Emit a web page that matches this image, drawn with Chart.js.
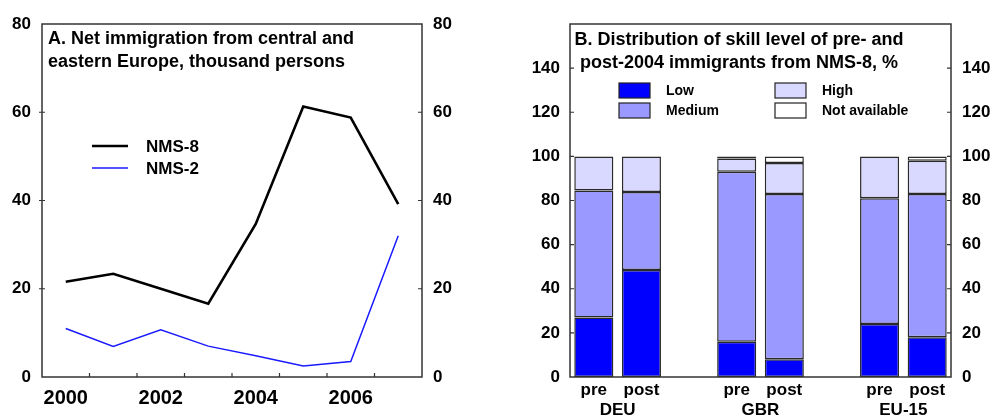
<!DOCTYPE html>
<html>
<head>
<meta charset="utf-8">
<script src="https://cdn.jsdelivr.net/npm/chart.js@4/dist/chart.umd.min.js"></script>
<style>
  html, body { margin: 0; padding: 0; background: #fff; }
  #wrap { position: relative; width: 992px; height: 416px; overflow: hidden; }
  canvas { position: absolute; top: 0; }
  #left { left: 0; }
  #right { left: 496px; }
</style>
</head>
<body>
<div id="wrap">
  <canvas id="left" width="496" height="416"></canvas>
  <canvas id="right" width="496" height="416"></canvas>
</div>
<script>
// Panel A: net immigration, thousand persons
const years = ['2000', '2001', '2002', '2003', '2004', '2005', '2006', '2007'];
const nms8 = [21.6, 23.4, 20.0, 16.6, 34.7, 61.3, 58.8, 39.2];
const nms2 = [11.0, 6.9, 10.7, 7.0, 4.8, 2.5, 3.5, 32.0];

// Panel B: skill distribution of NMS-8 immigrants, %
const barLabels = ['pre', 'post', '', 'pre', 'post', '', 'pre', 'post'];
const groupNames = ['DEU', 'GBR', 'EU-15'];
const groupMembers = [[0, 1], [3, 4], [6, 7]];
const low      = [27.0, 48.5, null, 16.0,  8.0, null, 24.0, 18.0];
const medium   = [57.5, 35.3, null, 77.0, 75.0, null, 57.0, 65.0];
const high     = [15.5, 16.2, null,  6.0, 14.0, null, 19.0, 15.0];
const notAvail = [ 0.0,  0.0, null,  1.0,  3.0, null,  0.0,  2.0];

const FONT = "'Liberation Sans', Arial, Helvetica, sans-serif";
const INK = '#000';

// Box round the plot area plus short tick marks
const framePlugin = {
  id: 'frame',
  afterDatasetsDraw(chart, args, opts) {
    const { ctx, chartArea: a } = chart;
    ctx.save();
    ctx.strokeStyle = '#333';
    ctx.lineWidth = 1.5;
    ctx.strokeRect(a.left, a.top, a.right - a.left, a.bottom - a.top);
    ctx.lineWidth = 1.2;
    ctx.beginPath();
    const L = 4;
    const yl = chart.scales.y, yr = chart.scales.y2;
    yl.ticks.forEach(t => {
      if (t.value >= yl.max || t.value <= yl.min) return;
      const p = yl.getPixelForValue(t.value);
      ctx.moveTo(a.left - (opts.crossLeft ? 3 : 0), p);
      ctx.lineTo(a.left + (opts.crossLeft ? 3 : L), p);
    });
    yr.ticks.forEach(t => {
      if (t.value >= yr.max || t.value <= yr.min) return;
      const p = yr.getPixelForValue(t.value);
      ctx.moveTo(a.right - L, p);
      ctx.lineTo(a.right, p);
    });
    if (opts.xBoundaries) {
      const xs = chart.scales.x;
      for (let i = 0; i < xs.ticks.length - 1; i++) {
        const p = (xs.getPixelForTick(i) + xs.getPixelForTick(i + 1)) / 2;
        ctx.moveTo(p, a.bottom);
        ctx.lineTo(p, a.bottom - L);
      }
    }
    ctx.stroke();
    ctx.restore();
  }
};

// Panel heading written inside the plot area
const headingPlugin = {
  id: 'heading',
  afterDraw(chart, args, opts) {
    const { ctx, chartArea: a } = chart;
    ctx.save();
    ctx.fillStyle = INK;
    ctx.font = 'bold ' + opts.size + 'px ' + FONT;
    ctx.textAlign = opts.align;
    ctx.textBaseline = 'alphabetic';
    opts.lines.forEach((line, i) => {
      ctx.fillText(line, a.left + opts.dx, a.top + opts.dy + i * opts.lineHeight);
    });
    ctx.restore();
  }
};

// Line legend for panel A
const lineLegendPlugin = {
  id: 'lineLegend',
  afterDraw(chart, args, opts) {
    const { ctx, chartArea: a } = chart;
    ctx.save();
    ctx.font = 'bold 17px ' + FONT;
    ctx.textBaseline = 'middle';
    ctx.textAlign = 'left';
    chart.data.datasets.forEach((ds, i) => {
      const y = a.top + opts.dy + i * opts.rowGap;
      ctx.strokeStyle = ds.borderColor;
      ctx.lineWidth = ds.borderWidth;
      ctx.beginPath();
      ctx.moveTo(a.left + opts.dx, y);
      ctx.lineTo(a.left + opts.dx + opts.lineLen, y);
      ctx.stroke();
      ctx.fillStyle = INK;
      ctx.fillText(ds.label, a.left + opts.textDx, y + 1);
    });
    ctx.restore();
  }
};

// Two-column box legend for panel B (filled down the columns)
const boxLegendPlugin = {
  id: 'boxLegend',
  afterDraw(chart, args, opts) {
    const { ctx, chartArea: a } = chart;
    ctx.save();
    ctx.font = 'bold 14px ' + FONT;
    ctx.textBaseline = 'middle';
    ctx.textAlign = 'left';
    chart.data.datasets.forEach((ds, i) => {
      const col = Math.floor(i / 2), row = i % 2;
      const x = a.left + opts.colX[col];
      const y = a.top + opts.rowY[row];
      ctx.fillStyle = ds.backgroundColor;
      ctx.fillRect(x, y, opts.boxW, opts.boxH);
      ctx.strokeStyle = '#222';
      ctx.lineWidth = 1.2;
      ctx.strokeRect(x, y, opts.boxW, opts.boxH);
      ctx.fillStyle = INK;
      ctx.fillText(ds.label, x + opts.textDx, y + opts.boxH / 2 + 1);
    });
    ctx.restore();
  }
};

// Country names centred under each pre/post pair
const groupLabelPlugin = {
  id: 'groupLabels',
  afterDraw(chart, args, opts) {
    const { ctx, chartArea: a } = chart;
    const xs = chart.scales.x;
    ctx.save();
    ctx.fillStyle = INK;
    ctx.font = 'bold 17px ' + FONT;
    ctx.textAlign = 'center';
    ctx.textBaseline = 'alphabetic';
    groupNames.forEach((name, g) => {
      const idx = groupMembers[g];
      const cx = idx.reduce((s, i) => s + xs.getPixelForValue(i), 0) / idx.length;
      ctx.fillText(name, cx, a.bottom + opts.dy);
    });
    ctx.restore();
  }
};

const tickFont = { family: FONT, size: 17, weight: 'bold' };

function fixedWidth(w) { return scale => { scale.width = w; }; }
function fixedHeight(h) { return scale => { scale.height = h; }; }

new Chart(document.getElementById('left'), {
  type: 'line',
  data: {
    labels: years,
    datasets: [
      { label: 'NMS-8', data: nms8, borderColor: '#000', borderWidth: 2.6, pointRadius: 0, tension: 0, yAxisID: 'y' },
      { label: 'NMS-2', data: nms2, borderColor: '#1a1aff', borderWidth: 1.5, pointRadius: 0, tension: 0, yAxisID: 'y' }
    ]
  },
  options: {
    responsive: false,
    devicePixelRatio: 1,
    animation: false,
    layout: { padding: { top: 24, left: 0, right: 0, bottom: 0 } },
    plugins: {
      legend: { display: false },
      tooltip: { enabled: false },
      frame: { crossLeft: true, xBoundaries: true },
      heading: {
        lines: ['A. Net immigration from central and', 'eastern Europe, thousand persons'],
        size: 18, align: 'left', dx: 6, dy: 20, lineHeight: 23
      },
      lineLegend: { dx: 50, lineLen: 36, textDx: 104, dy: 122, rowGap: 22 }
    },
    scales: {
      x: {
        type: 'category',
        offset: true,
        grid: { display: false, drawTicks: false },
        border: { display: false },
        afterFit: fixedHeight(39),
        ticks: {
          autoSkip: false, maxRotation: 0, padding: 9,
          color: INK, font: { family: FONT, size: 20, weight: 'bold' },
          callback: function (v) { const s = this.getLabelForValue(v); return (parseInt(s) % 2 === 0) ? s : ''; }
        }
      },
      y: {
        position: 'left', min: 0, max: 80,
        grid: { display: false, drawTicks: false },
        border: { display: false },
        afterFit: fixedWidth(42),
        ticks: { stepSize: 20, padding: 11, color: INK, font: tickFont }
      },
      y2: {
        position: 'right', min: 0, max: 80,
        grid: { display: false, drawTicks: false },
        border: { display: false },
        afterFit: fixedWidth(74),
        ticks: { stepSize: 20, padding: 11, color: INK, font: tickFont }
      }
    }
  },
  plugins: [framePlugin, headingPlugin, lineLegendPlugin]
});

const barBorder = '#2a2a2a';
function barSet(label, data, color) {
  return {
    label, data, backgroundColor: color, borderColor: barBorder, borderWidth: 1.5,
    borderSkipped: false, barPercentage: 0.82, categoryPercentage: 1.0,
    xAxisID: 'x', yAxisID: 'y'
  };
}

new Chart(document.getElementById('right'), {
  type: 'bar',
  data: {
    labels: barLabels,
    datasets: [
      barSet('Low', low, '#0000ff'),
      barSet('Medium', medium, '#9999ff'),
      barSet('High', high, '#d9d9ff'),
      barSet('Not available', notAvail, '#ffffff')
    ]
  },
  options: {
    responsive: false,
    devicePixelRatio: 1,
    animation: false,
    layout: { padding: { top: 24, left: 0, right: 0, bottom: 0 } },
    plugins: {
      legend: { display: false },
      tooltip: { enabled: false },
      frame: { crossLeft: false, xBoundaries: false },
      heading: {
        lines: ['B. Distribution of skill level of pre- and', 'post-2004 immigrants from NMS-8, %'],
        size: 18, align: 'center', dx: 169, dy: 21, lineHeight: 23
      },
      boxLegend: { colX: [49, 205], rowY: [59, 79], boxW: 31, boxH: 15, textDx: 47 },
      groupLabels: { dy: 38 }
    },
    scales: {
      x: {
        type: 'category',
        stacked: true,
        offset: true,
        grid: { display: false, drawTicks: false },
        border: { display: false },
        afterFit: fixedHeight(39),
        ticks: { autoSkip: false, maxRotation: 0, padding: 3, color: INK, font: { family: FONT, size: 17, weight: 'bold' } }
      },
      y: {
        position: 'left', stacked: true, min: 0, max: 160,
        grid: { display: false, drawTicks: false },
        border: { display: false },
        afterFit: fixedWidth(74),
        ticks: { stepSize: 20, padding: 10, color: INK, font: tickFont, callback: v => (v >= 160 ? '' : v) }
      },
      y2: {
        position: 'right', min: 0, max: 160,
        grid: { display: false, drawTicks: false },
        border: { display: false },
        afterFit: fixedWidth(41),
        ticks: { stepSize: 20, padding: 11, color: INK, font: tickFont, callback: v => (v >= 160 ? '' : v) }
      }
    }
  },
  plugins: [framePlugin, headingPlugin, boxLegendPlugin, groupLabelPlugin]
});
</script>
</body>
</html>
